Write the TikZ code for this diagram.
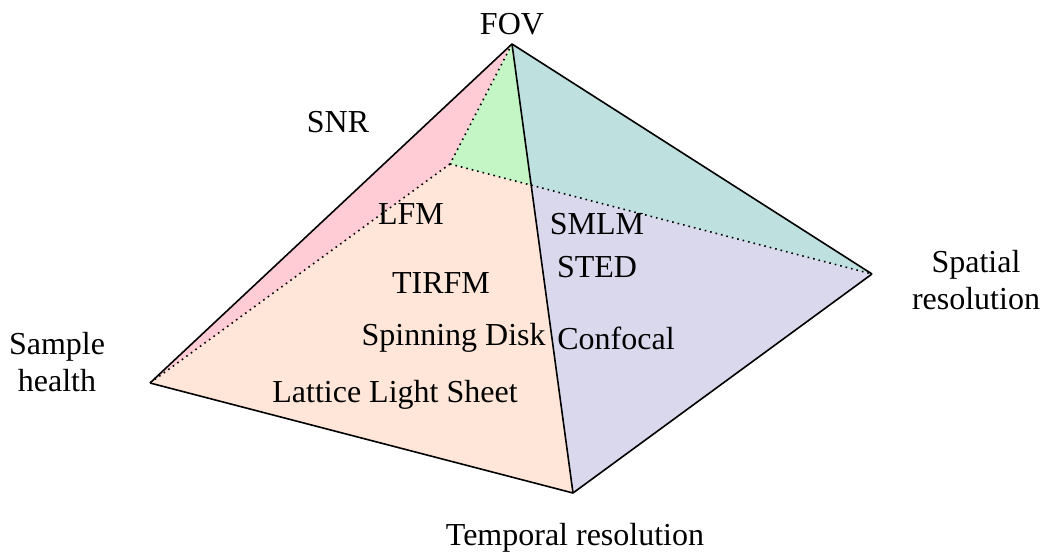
\documentclass[tikz,border=0pt]{standalone}
\usepackage{fontspec}
\setmainfont{Liberation Serif}
\usetikzlibrary{calc}
\definecolor{cpink}{RGB}{255,204,213}
\definecolor{cgreen}{RGB}{196,245,196}
\definecolor{cteal}{RGB}{190,225,224}
\definecolor{cpeach}{RGB}{255,230,216}
\definecolor{clav}{RGB}{218,216,236}
\begin{document}
\begin{tikzpicture}[x=0.5pt,y=-0.5pt,
  lbl/.style={font=\fontsize{16}{18.5}\selectfont,align=center,inner sep=0pt},
  edge/.style={draw=black,line width=0.8pt,line join=round},
  hidden/.style={draw=black,line width=0.8pt,dotted}]
\useasboundingbox (0,0) rectangle (1045,556);
\coordinate (A) at (512,44);
\coordinate (B) at (450,164);
\coordinate (S) at (150,383);
\coordinate (T) at (573,493);
\coordinate (P) at (872,274);
\coordinate (X) at (intersection of B--P and A--T);
% faces
\fill[cpeach] (S) -- (B) -- (X) -- (T) -- cycle;
\fill[clav] (T) -- (X) -- (P) -- cycle;
\fill[cpink] (A) -- (S) -- (B) -- cycle;
\fill[cgreen] (A) -- (B) -- (X) -- cycle;
\fill[cteal] (A) -- (X) -- (P) -- cycle;
% hidden edges
\draw[hidden] (B) -- (S);
\draw[hidden] (B) -- (P);
\draw[hidden] (A) -- (B);
% visible edges
\draw[edge] (A) -- (S);
\draw[edge] (A) -- (T);
\draw[edge] (A) -- (P);
\draw[edge] (S) -- (T) -- (P);
% labels
\node[lbl] (fov) at (512,24) {FOV};
\node[lbl] (snr) at (338,122) {SNR};
\node[lbl] (lfm) at (411,214) {LFM};
\node[lbl] (smlm) at (597,224) {SMLM};
\node[lbl] (sted) at (597,267) {STED};
\node[lbl] (tirfm) at (441,283) {TIRFM};
\node[lbl,anchor=east] (spin) at (546,338) {Spinning Disk};
\node[lbl,anchor=west] (conf) at (557,338) {Confocal};
\node[lbl] (lls) at (395,395) {Lattice Light Sheet};
\node[lbl] (sh) at (57,362) {Sample\\health};
\node[lbl] (sr) at (976,280) {Spatial\\resolution};
\node[lbl] (tr) at (575,538) {Temporal resolution};
\end{tikzpicture}
\end{document}
